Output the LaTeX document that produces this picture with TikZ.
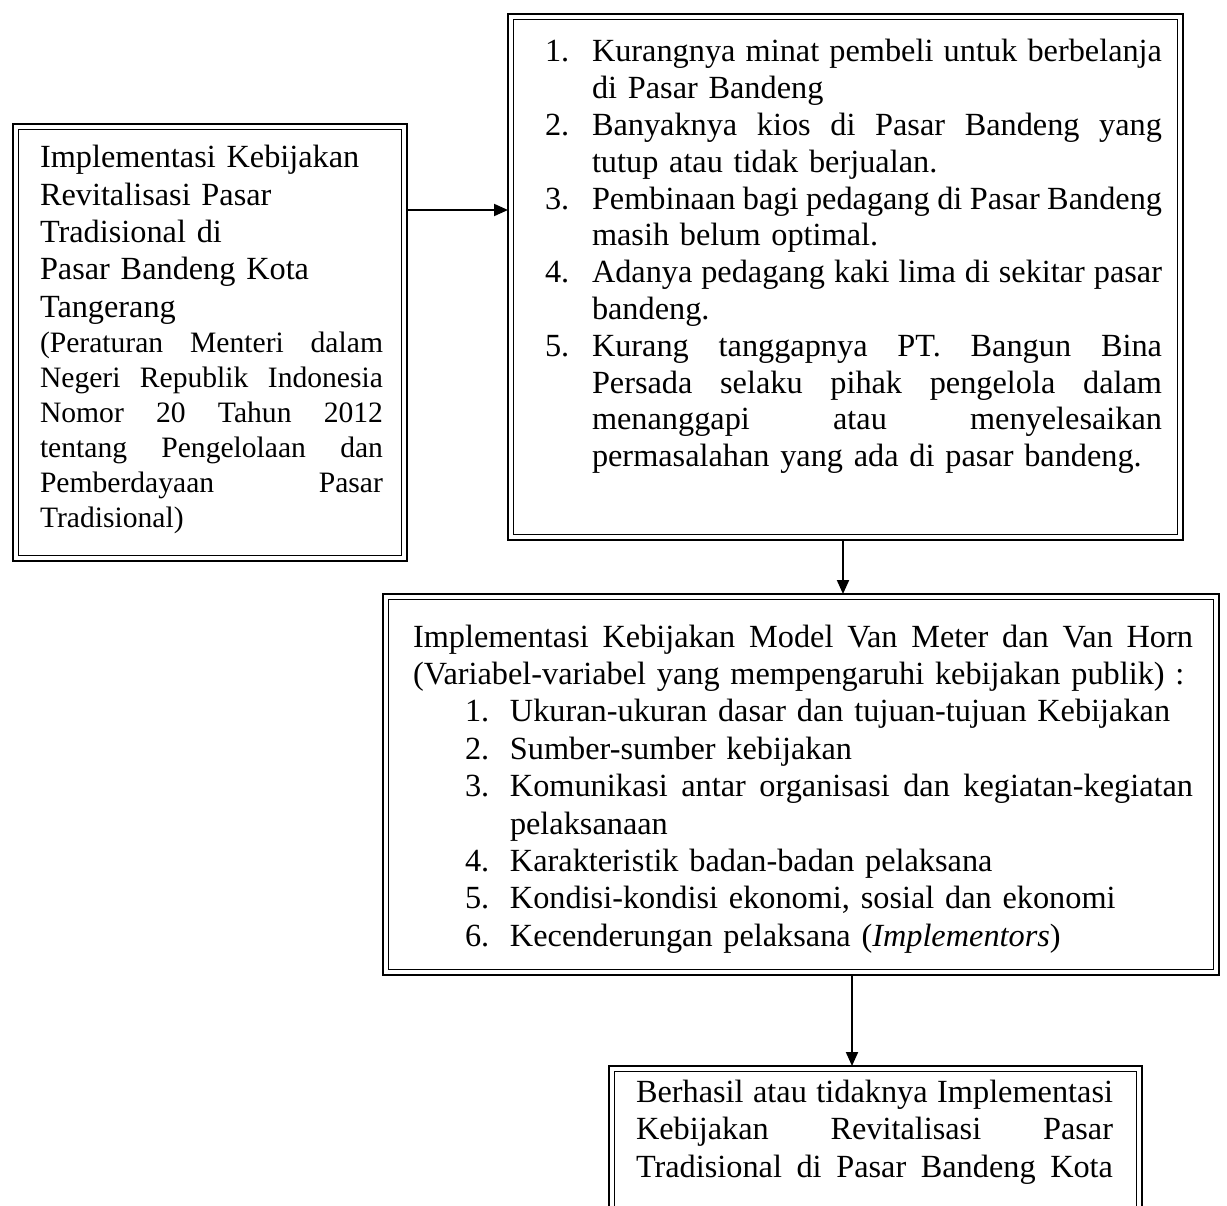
\documentclass[tikz,border=0pt]{standalone}
\usepackage{fontspec}
\setmainfont{Liberation Serif}
\usetikzlibrary{arrows.meta,calc}
\frenchspacing
\hbadness=10000
\hfuzz=20pt
\tikzset{
  box/.style={draw, line width=2.2pt, inner sep=0pt, outer sep=0pt, anchor=north west},
  inbox/.style={line width=1.2pt},
  txt/.style={inner sep=0pt, outer sep=0pt, anchor=base west, font=\fontsize{32.3}{37}\selectfont},
  smalltxt/.style={txt, font=\fontsize{29.6}{35}\selectfont},
  arr/.style={line width=2pt, -{Triangle[length=14pt,width=12pt]}}
}
% justified line / ragged line, optional left indent
\newcommand{\J}[2][0pt]{\hbox to \hsize{\spaceskip=0.25em plus 1fil minus 0.06em\relax\hspace*{#1}#2}}
\newcommand{\R}[2][0pt]{\hbox to \hsize{\hspace*{#1}#2\hfil}}
\newcommand{\nR}[1]{\makebox[47pt][l]{#1}}
\newcommand{\nM}[1]{\hspace*{52pt}\makebox[45pt][l]{#1}}
\begin{document}
\begin{tikzpicture}[x=1pt,y=-1pt]
\clip (0,0) rectangle (1227,1206);
\fill[white] (0,0) rectangle (1227,1206);
% boxes
\node[box, minimum width=394pt, minimum height=437pt] (lbox) at (13,124) {};
\node[box, minimum width=675pt, minimum height=526pt] (rbox) at (508,14) {};
\node[box, minimum width=836pt, minimum height=381pt] (mbox) at (383,594) {};
\node[box, minimum width=533pt, minimum height=260pt] (bbox) at (609,1066) {};
\foreach \b in {lbox,rbox,mbox,bbox}{
  \draw[inbox] ($(\b.north west)+(5.5,5.5)$) rectangle ($(\b.south east)+(-5.5,-5.5)$);
}
% texts
\node[txt, font=\fontsize{32.3}{37.3}\selectfont, text width=343pt] (ltxt) at (40,168) {%
  \R{Implementasi Kebijakan}
  \R{Revitalisasi Pasar}
  \R{Tradisional di}
  \R{Pasar Bandeng Kota}
  \R{Tangerang}};
\node[smalltxt, text width=343pt] (lref) at (40,353) {%
  \J{(Peraturan Menteri dalam}
  \J{Negeri Republik Indonesia}
  \J{Nomor 20 Tahun 2012}
  \J{tentang Pengelolaan dan}
  \J{Pemberdayaan Pasar}
  \R{Tradisional)}};
\node[txt, font=\fontsize{32.3}{36.8}\selectfont, text width=617pt] (rtxt) at (545,62) {%
  \J{\nR{1.}Kurangnya minat pembeli untuk berbelanja}
  \R[47pt]{di Pasar Bandeng}
  \J{\nR{2.}Banyaknya kios di Pasar Bandeng yang}
  \R[47pt]{tutup atau tidak berjualan.}
  \J{\nR{3.}Pembinaan bagi pedagang di Pasar Bandeng}
  \R[47pt]{masih belum optimal.}
  \J{\nR{4.}Adanya pedagang kaki lima di sekitar pasar}
  \R[47pt]{bandeng.}
  \J{\nR{5.}Kurang tanggapnya PT. Bangun Bina}
  \J[47pt]{Persada selaku pihak pengelola dalam}
  \J[47pt]{menanggapi atau menyelesaikan}
  \R[47pt]{permasalahan yang ada di pasar bandeng.}};
\node[txt, font=\fontsize{32.3}{37.4}\selectfont, text width=780pt] (mtxt) at (413,647) {%
  \J{Implementasi Kebijakan Model Van Meter dan Van Horn}
  \R{(Variabel-variabel yang mempengaruhi kebijakan publik) :}
  \R{\nM{1.}Ukuran-ukuran dasar dan tujuan-tujuan Kebijakan}
  \R{\nM{2.}Sumber-sumber kebijakan}
  \J{\nM{3.}Komunikasi antar organisasi dan kegiatan-kegiatan}
  \R[97pt]{pelaksanaan}
  \R{\nM{4.}Karakteristik badan-badan pelaksana}
  \R{\nM{5.}Kondisi-kondisi ekonomi, sosial dan ekonomi}
  \R{\nM{6.}Kecenderungan pelaksana (\textit{Implementors})}};
\node[txt, font=\fontsize{32.3}{37.5}\selectfont, text width=477pt] (btxt) at (636,1102) {%
  \J{Berhasil atau tidaknya Implementasi}
  \J{Kebijakan Revitalisasi Pasar}
  \J{Tradisional di Pasar Bandeng Kota}};
% arrows
\coordinate (a1) at (0,210);
\coordinate (a2) at (843,0);
\coordinate (a3) at (852,0);
\draw[arr] (lbox.east |- a1) -- (rbox.west |- a1);
\draw[arr] (rbox.south -| a2) -- (mbox.north -| a2);
\draw[arr] (mbox.south -| a3) -- (bbox.north -| a3);
\end{tikzpicture}
\end{document}
